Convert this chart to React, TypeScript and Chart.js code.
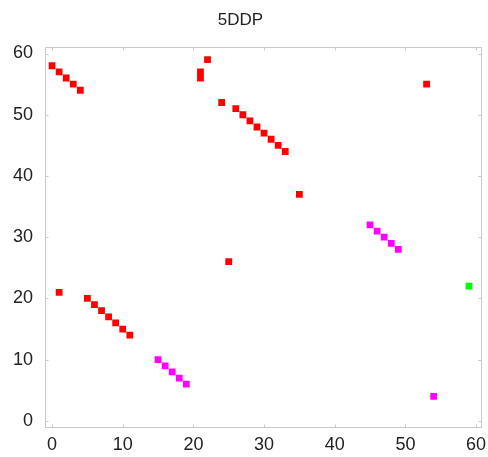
import React, { useEffect, useRef } from "react";
import { Chart, registerables } from "chart.js";

Chart.register(...registerables);

const titleText = "5DDP";
const redX = [0, 1, 2, 3, 4, 21, 21, 22, 24, 26, 27, 28, 29, 30, 31, 32, 33, 35, 53, 25, 1, 5, 6, 7, 8, 9, 10, 11];
const redY = [58, 57, 56, 55, 54, 57, 56, 59, 52, 51, 50, 49, 48, 47, 46, 45, 44, 37, 55, 26, 21, 20, 19, 18, 17, 16, 15, 14];
const magentaX = [15, 16, 17, 18, 19, 45, 46, 47, 48, 49, 54];
const magentaY = [10, 9, 8, 7, 6, 32, 31, 30, 29, 28, 4];
const greenX = [59];
const greenY = [22];
const tickValues = [0, 10, 20, 30, 40, 50, 60];

const toPts = (xs: number[], ys: number[]) => xs.map((x, i) => ({ x, y: ys[i] }));

const borderPlugin = {
  id: "boxBorder",
  afterDatasetsDraw(chart: any) {
    const { ctx, chartArea, scales } = chart;
    const l = Math.round(chartArea.left) + 0.5;
    const t = Math.round(chartArea.top) + 0.5;
    const r = Math.round(chartArea.right) + 0.5;
    const b = Math.round(chartArea.bottom) + 0.5;
    ctx.save();
    ctx.strokeStyle = "#c8c8c8";
    ctx.lineWidth = 1;
    ctx.strokeRect(l, t, r - l, b - t);
    ctx.beginPath();
    tickValues.forEach((v) => {
      const px = Math.round(scales.x.getPixelForValue(v)) + 0.5;
      ctx.moveTo(px, b);
      ctx.lineTo(px, b - 3);
      ctx.moveTo(px, t);
      ctx.lineTo(px, t + 3);
      const py = Math.round(scales.y.getPixelForValue(v)) + 0.5;
      ctx.moveTo(l, py);
      ctx.lineTo(l + 3, py);
      ctx.moveTo(r, py);
      ctx.lineTo(r - 3, py);
    });
    ctx.stroke();
    ctx.restore();
  },
};

export default function App() {
  const ref = useRef<HTMLCanvasElement>(null);
  useEffect(() => {
    document.body.style.margin = "0";
    const ds = (xs: number[], ys: number[], color: string) => ({
      data: toPts(xs, ys),
      backgroundColor: color,
      borderColor: color,
      pointStyle: "rect",
      pointRadius: 4.8,
      pointHoverRadius: 4.8,
      borderWidth: 0,
    });
    const chart = new Chart(ref.current!, {
      type: "scatter",
      data: {
        datasets: [
          ds(redX, redY, "#ff0000"),
          ds(magentaX, magentaY, "#ff00ff"),
          ds(greenX, greenY, "#00ff00"),
        ] as any,
      },
      options: {
        responsive: false,
        animation: false,
        layout: { padding: { left: 0, right: 7, top: 0, bottom: 0 } },
        plugins: {
          legend: { display: false },
          tooltip: { enabled: false },
          title: {
            display: true,
            text: titleText,
            color: "#222",
            font: { family: "Liberation Sans", size: 17, weight: "normal" },
            padding: { top: 10, bottom: 17 },
          },
        },
        scales: {
          x: {
            type: "linear",
            min: -1,
            max: 60.7,
            afterBuildTicks: (s: any) => {
              s.ticks = tickValues.map((v) => ({ value: v }));
            },
            afterFit: (s: any) => {
              s.height = 30;
              s.paddingLeft = 0;
              s.paddingRight = 0;
            },
            ticks: {
              color: "#222",
              font: { family: "Liberation Sans", size: 18 },
              padding: 7,
              maxRotation: 0,
            },
            grid: { drawOnChartArea: false, drawTicks: false, color: "#c8c8c8" },
            border: { display: false },
          },
          y: {
            type: "linear",
            min: -1,
            max: 61,
            afterBuildTicks: (s: any) => {
              s.ticks = tickValues.map((v) => ({ value: v }));
            },
            afterFit: (s: any) => {
              s.width = 45;
              s.paddingTop = 0;
              s.paddingBottom = 0;
            },
            ticks: {
              color: "#222",
              font: { family: "Liberation Sans", size: 18 },
              padding: 12,
            },
            grid: { drawOnChartArea: false, drawTicks: false, color: "#c8c8c8" },
            border: { display: false },
          },
        },
      },
      plugins: [borderPlugin],
    });
    return () => chart.destroy();
  }, []);
  return <canvas ref={ref} width={488} height={457} style={{ display: "block" }} />;
}
